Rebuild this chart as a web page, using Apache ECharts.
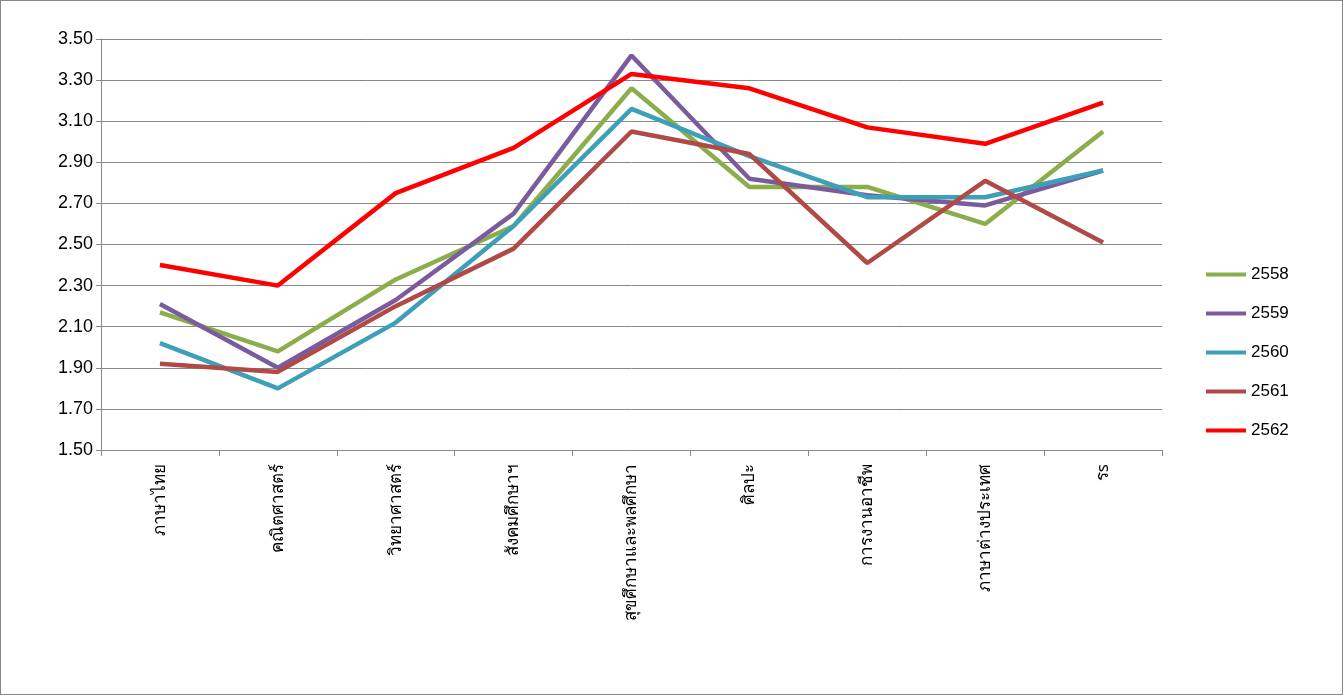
<!DOCTYPE html>
<html><head><meta charset="utf-8">
<script src="https://cdn.jsdelivr.net/npm/echarts@6/dist/echarts.min.js"></script>
<style>html,body{margin:0;padding:0;background:#fff}#c{width:1343px;height:695px;box-sizing:border-box;border:1px solid #888}</style>
</head><body><div id="c"></div>
<script>
var subjects = ['ภาษาไทย', 'คณิตศาสตร์', 'วิทยาศาสตร์', 'สังคมศึกษาฯ', 'สุขศึกษาและพลศึกษา', 'ศิลปะ', 'การงานอาชีพ', 'ภาษาต่างประเทศ', 'รs'];
var years = ['2558', '2559', '2560', '2561', '2562'];
var colors = ['#8BAE4A', '#7A5C9E', '#3E9FB8', '#B04A47', '#FF0000'];
var y2558 = [2.17, 1.98, 2.33, 2.59, 3.26, 2.78, 2.78, 2.60, 3.05];
var y2559 = [2.21, 1.90, 2.23, 2.65, 3.42, 2.82, 2.74, 2.69, 2.86];
var y2560 = [2.02, 1.80, 2.12, 2.59, 3.16, 2.93, 2.73, 2.73, 2.86];
var y2561 = [1.92, 1.88, 2.20, 2.48, 3.05, 2.94, 2.41, 2.81, 2.51];
var y2562 = [2.40, 2.30, 2.75, 2.97, 3.33, 3.26, 3.07, 2.99, 3.19];
var values = [y2558, y2559, y2560, y2561, y2562];

var myChart = echarts.init(document.getElementById('c'));
var series = years.map(function (y, i) {
    return {
        name: y, type: 'line', data: values[i], symbol: 'none',
        lineStyle: { width: 4.5, color: colors[i] }, itemStyle: { color: colors[i] }
    };
});
myChart.setOption({
    animation: false,
    grid: { left: 100, right: 180, top: 38, bottom: 244 },
    legend: {
        orient: 'vertical', left: 1200, top: 260, itemGap: 22,
        itemWidth: 40, itemHeight: 4, icon: 'rect',
        textStyle: { fontSize: 17, color: '#000', fontFamily: 'Liberation Sans' },
        data: years
    },
    xAxis: {
        type: 'category', data: subjects, boundaryGap: true,
        axisLine: { lineStyle: { color: '#888' } },
        axisTick: { show: true, length: 6, lineStyle: { color: '#888' } },
        axisLabel: { rotate: 90, color: '#000', fontSize: 17, interval: 0, margin: 14,
            fontFamily: 'Noto Sans, DejaVu Sans, sans-serif' }
    },
    yAxis: {
        type: 'value', min: 1.5, max: 3.5, interval: 0.2,
        axisLine: { show: true, lineStyle: { color: '#888' } },
        axisTick: { show: true, lineStyle: { color: '#888' } },
        splitLine: { lineStyle: { color: '#888' } },
        axisLabel: { color: '#000', fontSize: 18, fontFamily: 'Liberation Sans',
            formatter: function (v) { return v.toFixed(2); } }
    },
    series: series
});
</script></body></html>
